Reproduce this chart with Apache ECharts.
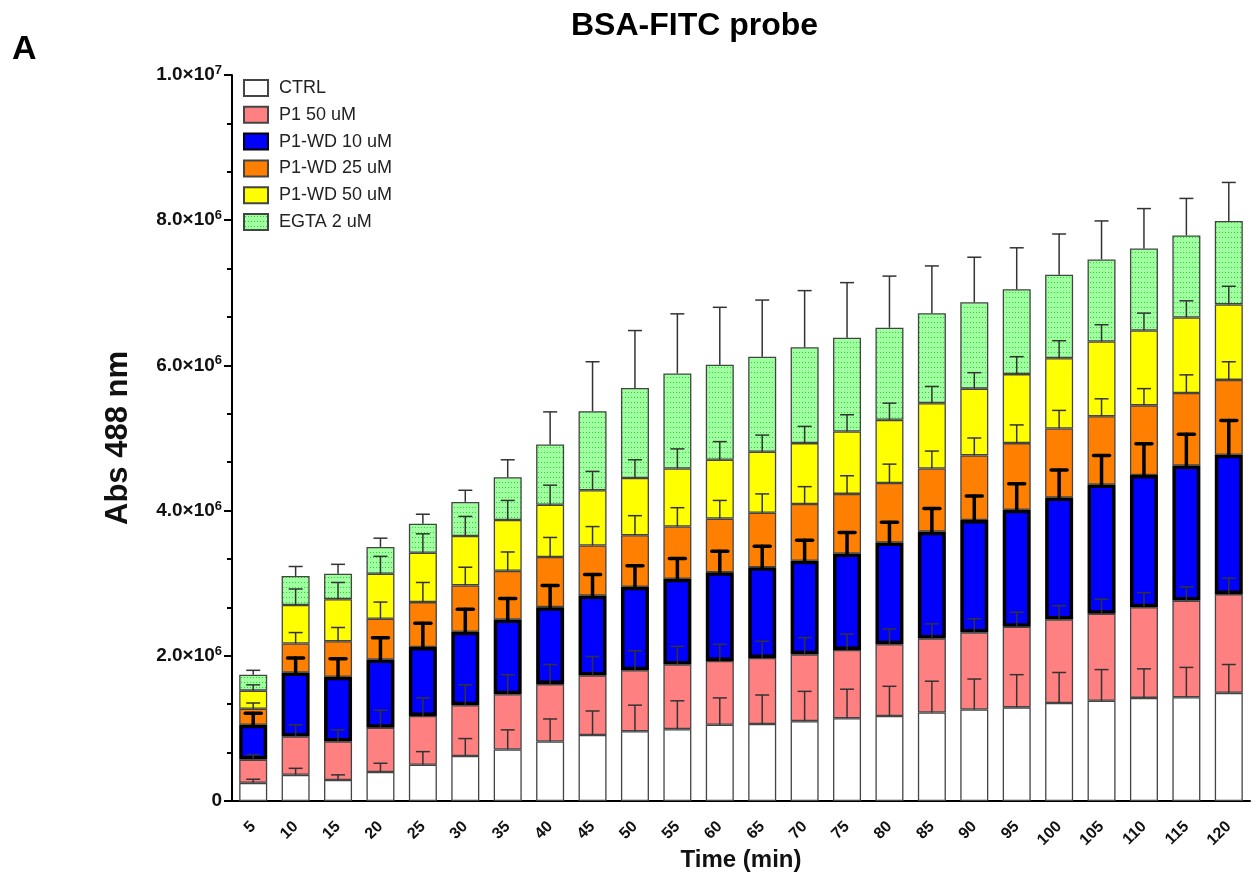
<!DOCTYPE html>
<html>
<head>
<meta charset="utf-8">
<script src="https://cdn.jsdelivr.net/npm/echarts@6/dist/echarts.min.js"></script>
<style>
  html, body { margin: 0; padding: 0; background: #fff; }
  #chart { width: 1258px; height: 881px; }
</style>
</head>
<body>
<div id="chart"></div>
<script>
// time points (min)
var times = ['5', '10', '15', '20', '25', '30', '35', '40', '45', '50', '55', '60',
  '65', '70', '75', '80', '85', '90', '95', '100', '105', '110', '115', '120']

// top of each stacked layer, in units of 1e6
var ctrlTop = [0.25, 0.36, 0.29, 0.40, 0.50, 0.62, 0.71, 0.82, 0.91, 0.96, 0.99, 1.05, 1.06, 1.10, 1.14, 1.17, 1.22, 1.26, 1.29, 1.35, 1.38, 1.42, 1.43, 1.49]
var p1Top = [0.57, 0.89, 0.82, 1.01, 1.17, 1.32, 1.47, 1.61, 1.73, 1.80, 1.88, 1.93, 1.97, 2.02, 2.08, 2.16, 2.24, 2.32, 2.40, 2.50, 2.58, 2.67, 2.76, 2.85]
var wd10Top = [1.05, 1.77, 1.71, 1.95, 2.12, 2.33, 2.50, 2.67, 2.83, 2.95, 3.06, 3.15, 3.22, 3.31, 3.41, 3.56, 3.71, 3.87, 4.01, 4.18, 4.36, 4.49, 4.62, 4.77]
var wd25Top = [1.27, 2.17, 2.20, 2.51, 2.74, 2.97, 3.17, 3.36, 3.52, 3.66, 3.78, 3.89, 3.97, 4.09, 4.23, 4.38, 4.58, 4.76, 4.93, 5.13, 5.30, 5.45, 5.62, 5.80]
var wd50Top = [1.52, 2.70, 2.78, 3.13, 3.42, 3.65, 3.87, 4.08, 4.28, 4.45, 4.58, 4.70, 4.81, 4.93, 5.09, 5.25, 5.48, 5.68, 5.88, 6.10, 6.33, 6.48, 6.66, 6.84]
var egtaTop = [1.74, 3.10, 3.13, 3.50, 3.82, 4.12, 4.46, 4.91, 5.37, 5.69, 5.89, 6.01, 6.12, 6.25, 6.38, 6.52, 6.72, 6.87, 7.05, 7.25, 7.46, 7.61, 7.79, 7.99]

// where each error bar cap sits (same units)
var ctrlCap = [0.30, 0.45, 0.36, 0.52, 0.68, 0.86, 0.98, 1.13, 1.24, 1.32, 1.38, 1.42, 1.46, 1.51, 1.54, 1.58, 1.65, 1.68, 1.74, 1.77, 1.81, 1.82, 1.84, 1.88]
var p1Cap = [0.64, 1.05, 0.98, 1.25, 1.42, 1.60, 1.74, 1.88, 1.99, 2.07, 2.13, 2.16, 2.20, 2.25, 2.30, 2.37, 2.44, 2.51, 2.60, 2.69, 2.78, 2.87, 2.95, 3.07]
var wd10Cap = [1.21, 1.97, 1.96, 2.25, 2.45, 2.64, 2.79, 2.97, 3.12, 3.24, 3.34, 3.44, 3.51, 3.59, 3.70, 3.84, 4.03, 4.20, 4.37, 4.56, 4.76, 4.92, 5.05, 5.24]
var wd25Cap = [1.35, 2.32, 2.39, 2.74, 3.01, 3.22, 3.43, 3.63, 3.78, 3.93, 4.04, 4.14, 4.23, 4.33, 4.48, 4.64, 4.82, 5.00, 5.18, 5.38, 5.54, 5.68, 5.87, 6.05]
var wd50Cap = [1.60, 2.92, 3.01, 3.37, 3.68, 3.92, 4.14, 4.35, 4.54, 4.70, 4.85, 4.95, 5.04, 5.16, 5.32, 5.48, 5.71, 5.90, 6.12, 6.34, 6.56, 6.72, 6.89, 7.09]
var egtaCap = [1.80, 3.23, 3.26, 3.62, 3.95, 4.28, 4.70, 5.36, 6.05, 6.48, 6.71, 6.80, 6.90, 7.03, 7.14, 7.23, 7.37, 7.49, 7.62, 7.81, 7.99, 8.16, 8.30, 8.52]

var names = ['CTRL', 'P1 50 uM', 'P1-WD 10 uM', 'P1-WD 25 uM', 'P1-WD 50 uM', 'EGTA 2 uM']
var tops = [ctrlTop, p1Top, wd10Top, wd25Top, wd50Top, egtaTop]
var caps = [ctrlCap, p1Cap, wd10Cap, wd25Cap, wd50Cap, egtaCap]

var FONT = '"Liberation Sans", Arial, sans-serif'

// dotted green fill
function dotPattern () {
  var c = document.createElement('canvas')
  c.width = 6
  c.height = 5
  var ctx = c.getContext('2d')
  ctx.fillStyle = '#a0ffa0'
  ctx.fillRect(0, 0, 6, 5)
  ctx.fillStyle = '#22dd22'
  ctx.fillRect(1, 2, 1, 1)
  ctx.fillRect(4, 2, 1, 1)
  return c
}

var styles = [
  { color: '#ffffff', borderColor: '#444', borderWidth: 1.3 },
  { color: '#ff8080', borderColor: '#444', borderWidth: 1.3 },
  { color: '#0000ff', borderColor: '#000', borderWidth: 3.5 },
  { color: '#ff8000', borderColor: '#444', borderWidth: 1.3 },
  { color: '#ffff00', borderColor: '#444', borderWidth: 1.3 },
  { color: { image: dotPattern(), repeat: 'repeat' }, borderColor: '#444', borderWidth: 1.3 }
]

var series = []
tops.forEach(function (t, k) {
  var seg = t.map(function (v, i) {
    return k === 0 ? v : +(v - tops[k - 1][i]).toFixed(3)
  })
  series.push({
    name: names[k],
    type: 'bar',
    stack: 'total',
    barWidth: 28,
    z: k === 2 ? 3 : 2,
    itemStyle: styles[k],
    data: seg
  })
})

// error bars: [category index, layer top, cap, thick?]
var errRows = []
tops.forEach(function (t, k) {
  t.forEach(function (v, i) {
    errRows.push([i, v, caps[k][i], k === 2 ? 1 : 0])
  })
})

function renderErr (params, api) {
  var x = api.value(0)
  var p0 = api.coord([x, api.value(1)])
  var p1 = api.coord([x, api.value(2)])
  var thick = api.value(3) === 1
  var half = thick ? 8 : 7
  var st = {
    stroke: thick ? '#000' : '#333',
    lineWidth: thick ? 3.5 : 1.5,
    lineCap: thick ? 'round' : 'butt'
  }
  return {
    type: 'group',
    children: [
      { type: 'line', shape: { x1: p0[0], y1: p0[1], x2: p1[0], y2: p1[1] }, style: st },
      { type: 'line', shape: { x1: p1[0] - half, y1: p1[1], x2: p1[0] + half, y2: p1[1] }, style: st }
    ]
  }
}

series.push({
  type: 'custom',
  renderItem: renderErr,
  z: 5,
  silent: true,
  encode: { x: 0, y: [1, 2] },
  data: errRows
})

var chart = echarts.init(document.getElementById('chart'), null, { renderer: 'canvas' })
chart.setOption({
  animation: false,
  backgroundColor: '#fff',
  textStyle: { fontFamily: FONT },
  graphic: [
    {
      type: 'text',
      left: 12,
      top: 33,
      style: { text: 'A', font: 'bold 34px ' + FONT, fill: '#000' }
    },
    {
      type: 'text',
      left: 571,
      top: 10,
      style: { text: 'BSA-FITC probe', font: 'bold 32px ' + FONT, fill: '#000' }
    }
  ],
  legend: {
    orient: 'vertical',
    left: 238,
    top: 74,
    itemWidth: 24,
    itemHeight: 16,
    itemGap: 8.8,
    icon: 'rect',
    data: names,
    textStyle: { fontSize: 18, color: '#222', fontFamily: FONT, padding: [0, 0, 0, 6] }
  },
  grid: {
    left: 232,
    right: 8,
    top: 75,
    bottom: 80,
    containLabel: false,
    outerBoundsMode: 'none'
  },
  xAxis: {
    type: 'category',
    data: times,
    name: 'Time (min)',
    nameLocation: 'middle',
    nameGap: 47,
    nameMoveOverlap: false,
    nameTextStyle: { fontSize: 24, fontWeight: 'bold', color: '#111' },
    axisLine: { lineStyle: { color: '#000', width: 2 } },
    axisTick: { alignWithLabel: true, length: 7, lineStyle: { color: '#000', width: 2 } },
    axisLabel: {
      rotate: 45,
      margin: 23,
      fontSize: 16,
      fontWeight: 'bold',
      color: '#111'
    }
  },
  yAxis: {
    type: 'value',
    min: 0,
    max: 10,
    interval: 2,
    name: 'Abs 488 nm',
    nameLocation: 'middle',
    nameGap: 98,
    nameMoveOverlap: false,
    nameTextStyle: { fontSize: 31, fontWeight: 'bold', color: '#111' },
    axisLine: { show: true, lineStyle: { color: '#000', width: 2 } },
    axisTick: { show: true, length: 8, lineStyle: { color: '#000', width: 2 } },
    minorTick: { show: true, splitNumber: 3, length: 5, lineStyle: { color: '#000', width: 2 } },
    splitLine: { show: false },
    axisLabel: {
      margin: 10,
      color: '#111',
      formatter: function (v) {
        if (v === 0) return '{b|0}'
        if (v === 10) return '{b|1.0×10}{s|7}'
        return '{b|' + v.toFixed(1) + '×10}{s|6}'
      },
      rich: {
        b: { fontSize: 19, fontWeight: 'bold', color: '#111', lineHeight: 22 },
        s: { fontSize: 13, fontWeight: 'bold', color: '#111', verticalAlign: 'top', lineHeight: 22 }
      }
    }
  },
  series: series
})
</script>
</body>
</html>
